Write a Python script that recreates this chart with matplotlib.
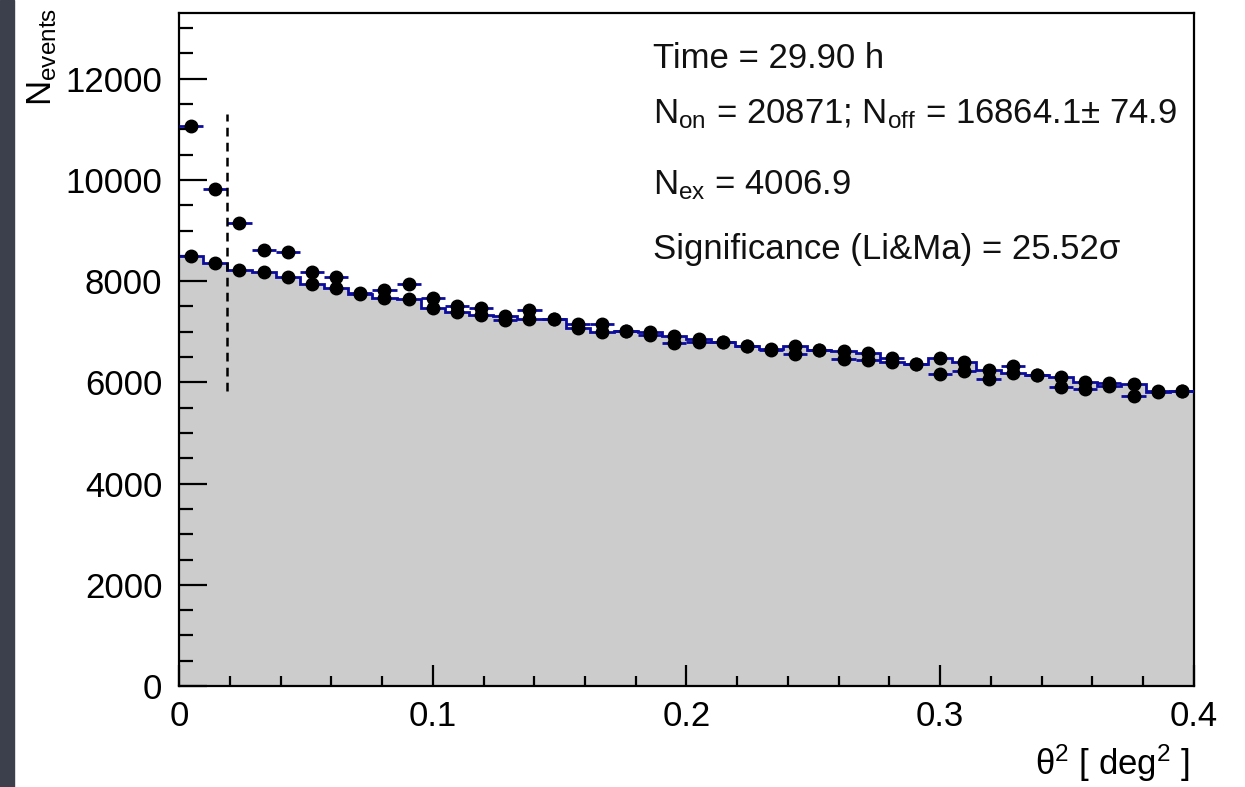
import numpy as np
import matplotlib
matplotlib.use('Agg')
import matplotlib.pyplot as plt
from matplotlib.ticker import MultipleLocator, FuncFormatter

plt.rcParams['font.family'] = ['Liberation Sans', 'DejaVu Sans']
plt.rcParams['mathtext.fontset'] = 'custom'
plt.rcParams['mathtext.rm'] = 'Liberation Sans'
plt.rcParams['mathtext.it'] = 'Liberation Sans:italic'

# ── Data ─────────────────────────────────────────────────────────────────────
THETA2_MAX = 0.4
NBINS = 42
CUT = 2 * THETA2_MAX / NBINS          # dashed line sits on the edge of bin 2
CUT_YRANGE = [5830, 11300]

on_counts = [11060, 9820, 9150, 8610, 8570, 8180, 8090, 7760, 7820, 7950,
             7660, 7510, 7470, 7230, 7430, 7260, 7150, 7160, 7010, 6930,
             6780, 6790, 6800, 6710, 6650, 6570, 6640, 6470, 6440, 6480,
             6370, 6170, 6220, 6070, 6330, 6150, 5900, 5860, 5990, 5730,
             5830, 5830]
off_counts = [8490, 8350, 8220, 8180, 8080, 7940, 7860, 7740, 7660, 7640,
              7480, 7400, 7330, 7310, 7250, 7260, 7070, 7000, 7020, 6990,
              6920, 6850, 6790, 6710, 6660, 6720, 6640, 6630, 6580, 6400,
              6360, 6490, 6400, 6240, 6190, 6150, 6100, 6000, 5930, 5960,
              5820, 5830]

info_lines = [
    "Time = 29.90 h",
    r"$\mathregular{N_{on}}$ = 20871; $\mathregular{N_{off}}$ = 16864.1$\pm$ 74.9",
    r"$\mathregular{N_{ex}}$ = 4006.9",
    "Significance (Li&Ma) = 25.52σ",
]
info_y_px = [58, 114, 185, 249]   # line centres, pixels from top

on = np.array(on_counts, dtype=float)
off = np.array(off_counts, dtype=float)
edges = np.linspace(0, THETA2_MAX, NBINS + 1)
centers = 0.5 * (edges[:-1] + edges[1:])
half_w = 0.5 * (edges[1] - edges[0])

BLUE = '#0c0c9c'
GRAY = '#cccccc'
W, H = 1245, 787

fig = plt.figure(figsize=(W / 100, H / 100), dpi=100)
fig.patches.append(plt.Rectangle((0, 0), 0.0115, 1, transform=fig.transFigure,
                                 color='#3b404c', zorder=-1))
ax = fig.add_axes([0.1438, 0.1283, 0.8152, 0.8552])

# off histogram: grey fill + blue outline + markers
ax.stairs(off, edges, fill=True, color=GRAY, baseline=0, zorder=1)
ax.stairs(off, edges, baseline=None, color=BLUE, lw=2.0, zorder=2)
ax.plot(centers, off, 'o', color='black', ms=9, zorder=4)

# on points with blue error bars
ax.errorbar(centers, on, xerr=half_w, yerr=np.sqrt(on), fmt='o', color='black',
            ms=9, ecolor=BLUE, elinewidth=2.0, capsize=0, zorder=5)

# theta2 cut
ax.plot([CUT, CUT], CUT_YRANGE, color='black', lw=1.8, ls=(0, (3.5, 2.5)), zorder=6)

ax.set_xlim(0, THETA2_MAX)
ax.set_ylim(0, 13300)

ax.xaxis.set_major_locator(MultipleLocator(0.1))
ax.xaxis.set_minor_locator(MultipleLocator(0.02))
ax.yaxis.set_major_locator(MultipleLocator(2000))
ax.yaxis.set_minor_locator(MultipleLocator(500))
ax.xaxis.set_major_formatter(FuncFormatter(lambda v, p: '0' if abs(v) < 1e-9 else f'{v:g}'))

ax.tick_params(axis='both', which='both', direction='in', top=False, right=False,
               width=1.6, labelsize=25)
ax.tick_params(axis='y', which='major', length=20, pad=12)
ax.tick_params(axis='y', which='minor', length=10)
ax.tick_params(axis='x', which='major', length=15, pad=10)
ax.tick_params(axis='x', which='minor', length=7)
for s in ax.spines.values():
    s.set_linewidth(1.6)

# axis titles in ROOT style
fig.text(1190 / W, 0.004, r'$\mathregular{\theta^{2}}$ [ deg$^{\mathregular{2}}$ ]',
         ha='right', va='bottom', fontsize=25)
fig.text(0.034, 0.99, r'$\mathregular{N_{events}}$', rotation=90,
         ha='center', va='top', fontsize=25)

# info text
for line, ypx in zip(info_lines, info_y_px):
    fig.text(653 / W, 1 - ypx / H, line, ha='left', va='center',
             fontsize=25, color='#111111')

fig.savefig('out.png', dpi=100)
